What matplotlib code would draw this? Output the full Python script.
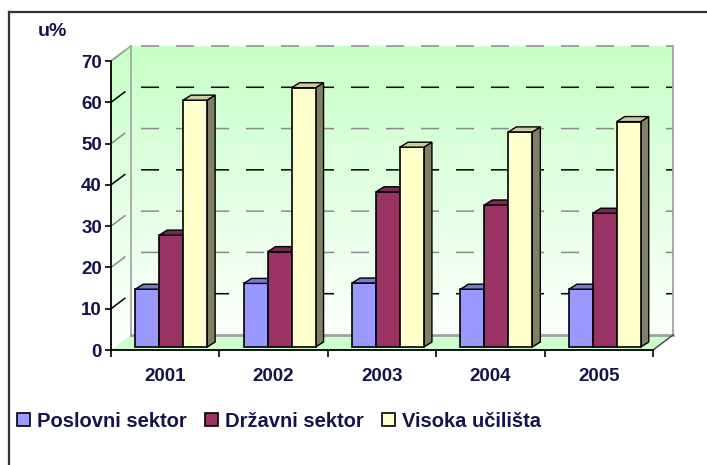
import matplotlib
matplotlib.use('Agg')
import numpy as np
import matplotlib.pyplot as plt
from matplotlib.patches import Polygon, Rectangle
from matplotlib.lines import Line2D
from matplotlib.colors import to_rgb

plt.rcParams['font.family'] = ['Liberation Sans', 'DejaVu Sans']
plt.rcParams['font.weight'] = 'bold'
plt.rcParams['lines.scale_dashes'] = False

# ---------------- data ----------------
years = ['2001', '2002', '2003', '2004', '2005']
series_names = ['Poslovni sektor', 'Državni sektor', 'Visoka učilišta']
poslovni = [14.0, 15.4, 15.5, 14.0, 14.0]
drzavni = [27.1, 23.1, 37.6, 34.4, 32.4]
visoka = [59.8, 62.8, 48.4, 52.1, 54.6]
y_ticks = [0, 10, 20, 30, 40, 50, 60, 70]
y_unit_label = 'u%'

series_values = [poslovni, drzavni, visoka]
series_colors = ['#9999ff', '#993366', '#ffffcc']
text_color = '#14144a'

W, H = 707, 465
fig = plt.figure(figsize=(W / 100, H / 100), dpi=100)

# front plane of the plot (pixels)
x_left, x_right, y_top, y_bot = 111, 653, 61, 350
ax = fig.add_axes([x_left / W, (H - y_bot) / H, (x_right - x_left) / W, (y_bot - y_top) / H])
n = len(years)
ymax = y_ticks[-1]
ax.set_xlim(0, n)
ax.set_ylim(0, ymax)
ax.patch.set_visible(False)

sx = n / (x_right - x_left)      # data units per pixel (x)
sy = ymax / (y_bot - y_top)      # data units per pixel (y)

# depth offsets (pixels -> data)
wx, wy = 20 * sx, 15 * sy        # wall depth
fx, fy = 6 * sx, 3 * sy          # bar front offset
dx, dy = 8 * sx, 5 * sy          # bar depth

# ---- walls with gradient ----
wall_poly = Polygon([(0, 0), (0, ymax), (wx, ymax + wy), (n + wx, ymax + wy),
                     (n + wx, wy), (wx, wy)], closed=True, transform=ax.transData,
                    facecolor='none', edgecolor='none')
ax.add_patch(wall_poly)
g = np.linspace(0, 1, 256)[:, None]
top_c = np.array([0.78, 1.0, 0.78])
bot_c = np.array([1.0, 1.0, 1.0])
grad = (top_c[None, None, :] * (1 - g[..., None]) + bot_c[None, None, :] * g[..., None])
grad = np.repeat(grad, 2, axis=1)
im = ax.imshow(grad, extent=[0, n + wx, 0, ymax + wy], origin='upper',
               aspect='auto', zorder=0.5, interpolation='bilinear')
im.set_clip_box(fig.bbox)
im.set_clip_path(wall_poly)
ax.set_xlim(0, n)
ax.set_ylim(0, ymax)

# floor
floor = Polygon([(0, 0), (n, 0), (n + wx, wy), (wx, wy)], closed=True,
                facecolor='#ccffcc', edgecolor='none', zorder=0.8, clip_on=False)
ax.add_patch(floor)

# gridlines (dashed, through side wall and back wall)
grid_cols = {10: 'black', 20: '#8a8a8a', 30: '#8a8a8a', 40: 'black',
             50: '#8a8a8a', 60: 'black', 70: '#8a8a8a'}
for v in y_ticks[1:]:
    ax.add_line(Line2D([0, wx, n + wx], [v, v + wy, v + wy],
                       color=grid_cols.get(v, '#555555'), lw=1.1,
                       linestyle=(0, (13, 12.2)), zorder=1, clip_on=False))

# wall edges
edge_c = '#a0a0a0'
ax.add_line(Line2D([wx, n + wx], [wy, wy], color=edge_c, lw=2.0, zorder=1.1, clip_on=False))
ax.add_line(Line2D([n + wx, n + wx], [wy, ymax + wy], color=edge_c, lw=1.3, zorder=1.1, clip_on=False))
ax.add_line(Line2D([wx, wx], [wy, ymax + wy], color=edge_c, lw=1.2, zorder=1.1, clip_on=False))
ax.add_line(Line2D([0, wx], [ymax, ymax + wy], color=edge_c, lw=1.2, zorder=1.1, clip_on=False))
ax.add_line(Line2D([n, n + wx], [0, wy], color='#404040', lw=1.0, zorder=1.1, clip_on=False))

# ---- bars ----
bw = 0.221
xs = np.arange(n)
z = 3.0
for i, (vals, col) in enumerate(zip(series_values, series_colors)):
    lefts = xs + 0.5 - 1.5 * bw + i * bw + fx
    ax.bar(lefts, vals, width=bw, bottom=fy, align='edge', color=col,
           edgecolor='black', linewidth=1.2, zorder=z + i * 0.1 + 0.05,
           label=series_names[i], clip_on=False)

for j in range(n):
    for i, (vals, col) in enumerate(zip(series_values, series_colors)):
        v = vals[j]
        l = xs[j] + 0.5 - 1.5 * bw + i * bw + fx
        base = np.array(to_rgb(col))
        top_col = base * 0.8
        side_col = base * 0.5
        zz = z + i * 0.1
        top = Polygon([(l, fy + v), (l + bw, fy + v), (l + bw + dx, fy + v + dy), (l + dx, fy + v + dy)],
                      closed=True, facecolor=top_col, edgecolor='black', lw=1.0,
                      zorder=zz + 0.06, clip_on=False, joinstyle='miter')
        side = Polygon([(l + bw, fy), (l + bw, fy + v), (l + bw + dx, fy + v + dy), (l + bw + dx, fy + dy)],
                       closed=True, facecolor=side_col, edgecolor='black', lw=1.0,
                       zorder=zz + 0.02, clip_on=False, joinstyle='miter')
        ax.add_patch(side)
        ax.add_patch(top)

# ---- axes, ticks ----
for s in ['top', 'right']:
    ax.spines[s].set_visible(False)
for s in ['left', 'bottom']:
    ax.spines[s].set_color('black')
    ax.spines[s].set_linewidth(1.3)
    ax.spines[s].set_zorder(5)

ax.set_yticks(y_ticks)
ax.set_yticklabels([str(t) for t in y_ticks])
ax.tick_params(axis='y', direction='out', length=4.5, width=1.2, pad=2,
               labelsize=13.5, labelcolor=text_color)
ax.set_xticks(np.arange(n + 1))
ax.set_xticklabels([''] * (n + 1))
ax.set_xticks(xs + 0.5, minor=True)
ax.set_xticklabels(years, minor=True)
ax.tick_params(axis='x', which='major', direction='out', length=5, width=1.2)
ax.tick_params(axis='x', which='minor', length=0, pad=13.0, labelsize=13.5,
               labelcolor=text_color)
for lab in ax.get_xticklabels(minor=True) + ax.get_yticklabels():
    lab.set_fontweight('bold')

fig.text(38 / W, 1 - 31 / H, y_unit_label, fontsize=14, fontweight='bold',
         color=text_color, ha='left', va='center')

# ---- legend ----
handles = [Rectangle((0, 0), 1, 1, facecolor=c, edgecolor='black', linewidth=1.2)
           for c in series_colors]
fig.legend(handles, series_names, loc='center left',
           bbox_to_anchor=(17 / W, 1 - 421 / H), ncol=3, frameon=False,
           handlelength=0.65, handleheight=0.65, handletextpad=0.35,
           columnspacing=0.9, borderpad=0, borderaxespad=0,
           prop={'weight': 'bold', 'size': 14.5}, labelcolor=text_color)

# ---- outer frame (left and top edges visible) ----
fig.add_artist(Line2D([9 / W, 9 / W], [0, 1 - 12 / H], transform=fig.transFigure,
                      color='#333333', lw=1.6))
fig.add_artist(Line2D([9 / W, 1], [1 - 12 / H, 1 - 12 / H], transform=fig.transFigure,
                      color='#333333', lw=1.6))

fig.savefig('out.png', dpi=100)
